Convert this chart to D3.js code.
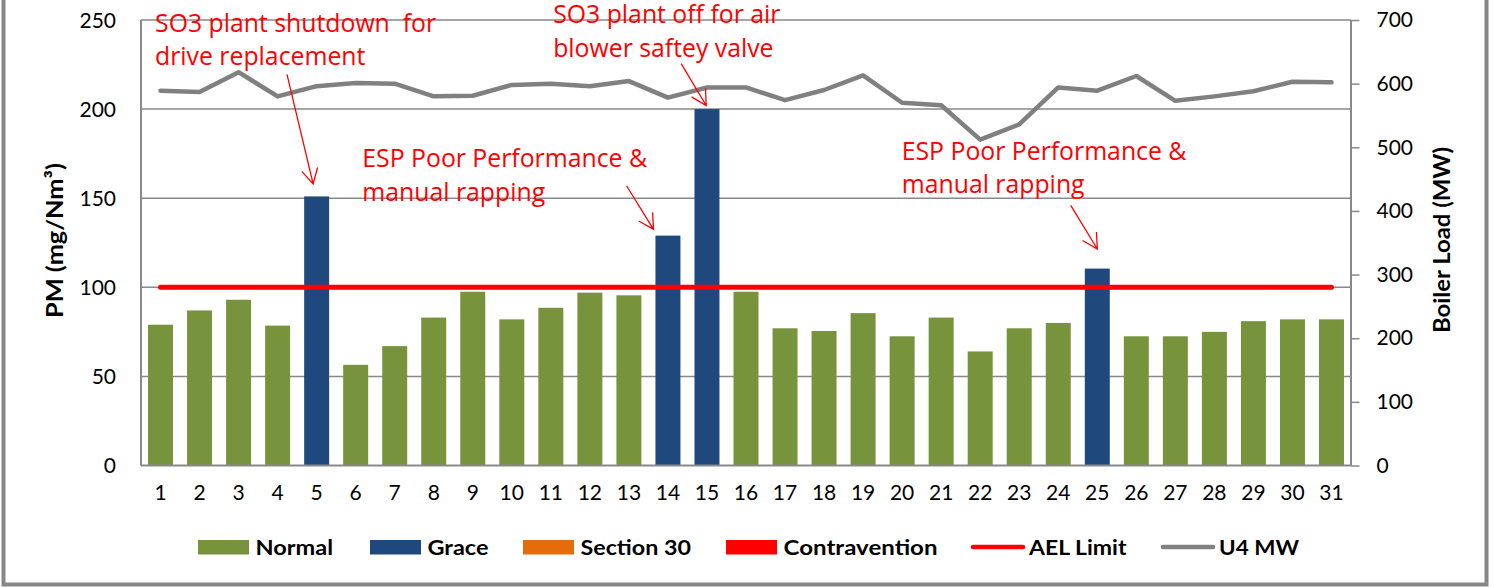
<!DOCTYPE html>
<meta charset='utf-8'>
<style>
body { margin: 0; background: #fff; }
svg { display: block; }
text { font-family: Lato, 'Open Sans', sans-serif; }
.tick-label { font-size: 21px; fill: #000; }
.note { font-family: 'Open Sans', sans-serif; font-size: 24.8px; fill: #ff0000; white-space: pre; }
.legend text { font-size: 21px; font-weight: bold; fill: #000; }
.axis-title { font-size: 23px; font-weight: bold; fill: #000; }
</style>
<div id='chart'></div>
<script src="https://cdnjs.cloudflare.com/ajax/libs/d3/7.8.5/d3.min.js"></script>
<script>
// daily values
const days = d3.range(1, 32);
const pm = [79, 87, 93, 78.5, 151, 56.5, 67, 83, 97.5, 82, 88.5, 97, 95.5, 129, 200, 97.5,
            77, 75.5, 85.5, 72.5, 83, 64, 77, 80, 110.5, 72.5, 72.5, 75, 81, 82, 82];
const status = ['Normal', 'Normal', 'Normal', 'Normal', 'Grace', 'Normal', 'Normal', 'Normal',
                'Normal', 'Normal', 'Normal', 'Normal', 'Normal', 'Grace', 'Grace', 'Normal',
                'Normal', 'Normal', 'Normal', 'Normal', 'Normal', 'Normal', 'Normal', 'Normal',
                'Grace', 'Normal', 'Normal', 'Normal', 'Normal', 'Normal', 'Normal'];
const loadMW = [589, 587, 618, 580, 596, 601, 600, 580, 581, 598, 600, 596, 604, 578, 594, 594,
                574, 590, 613, 570, 566, 512, 536, 594, 589, 612, 573, 580, 588, 603, 602];
const aelLimit = 100;
const pmTicks = [0, 50, 100, 150, 200, 250];
const mwTicks = [0, 100, 200, 300, 400, 500, 600, 700];

// notes: text anchor and arrow in data units (day, PM)
const notes = [
  { lines: ['SO3 plant shutdown  for', 'drive replacement'], day: 0.86, pm: 243.5, from: [4.24, 219.5], to: [4.91, 158] },
  { lines: ['SO3 plant off for air', 'blower saftey valve'], day: 11.06, pm: 248.3, from: [14.34, 225.5], to: [14.98, 202] },
  { lines: ['ESP Poor Performance &', 'manual rapping'], day: 6.17, pm: 167.5, from: [12.94, 157], to: [13.63, 132.5] },
  { lines: ['ESP Poor Performance &', 'manual rapping'], day: 19.99, pm: 171.5, from: [24.32, 146], to: [25.0, 121.5] }
];

const colors = { 'Normal': '#77933c', 'Grace': '#1f497d', 'Section 30': '#e46c0a', 'Contravention': '#ff0000' };
const legendItems = [
  { name: 'Normal', kind: 'box', x: 198, w: 77.5 },
  { name: 'Grace', kind: 'box', x: 370, w: 61 },
  { name: 'Section 30', kind: 'box', x: 523, w: 110.5 },
  { name: 'Contravention', kind: 'box', x: 726, w: 154 },
  { name: 'AEL Limit', kind: 'line', color: '#ff0000', x: 971, w: 97.5 },
  { name: 'U4 MW', kind: 'line', color: '#808080', x: 1161, w: 80 }
];

const width = 1494, height = 587;
const plotLeft = 141, plotRight = 1351, plotTop = 20, plotBottom = 465.5;

const svg = d3.select('#chart').append('svg')
  .attr('width', width)
  .attr('height', height);

const x = d3.scaleBand().domain(days).range([plotLeft, plotRight]).paddingInner(0.36).paddingOuter(0.18);
const xl = d3.scaleLinear().domain([0.5, 31.5]).range([plotLeft, plotRight]);
const y = d3.scaleLinear().domain([0, 250]).range([plotBottom, plotTop]);
const y2 = d3.scaleLinear().domain([0, 700]).range([plotBottom, plotTop]);

// outer frame
svg.append('rect')
  .attr('x', 3.5).attr('y', -10)
  .attr('width', 1483).attr('height', 594.5)
  .attr('fill', 'none').attr('stroke', '#878787').attr('stroke-width', 4);

// gridlines
svg.append('g').selectAll('line')
  .data(pmTicks.filter(d => d > 0))
  .join('line')
  .attr('x1', plotLeft).attr('x2', plotRight)
  .attr('y1', d => y(d)).attr('y2', d => y(d))
  .attr('stroke', '#898989').attr('stroke-width', 1.5);

// left axis labels
svg.append('g').selectAll('text')
  .data(pmTicks)
  .join('text')
  .attr('class', 'tick-label')
  .attr('x', 116).attr('y', d => y(d)).attr('dy', '0.36em')
  .attr('text-anchor', 'end')
  .text(d => d);

// right axis
const rAxis = svg.append('g').attr('transform', `translate(${plotRight},0)`)
  .call(d3.axisRight(y2).tickValues(mwTicks).tickSize(8.5).tickPadding(17));
rAxis.select('.domain').remove();
rAxis.selectAll('line').attr('stroke', '#898989').attr('stroke-width', 1.5);
rAxis.attr('font-family', null).attr('font-size', null);
rAxis.selectAll('text').attr('class', 'tick-label').attr('fill', '#000');

// bars
svg.append('g').selectAll('rect')
  .data(days)
  .join('rect')
  .attr('x', d => x(d))
  .attr('width', x.bandwidth())
  .attr('y', (d, i) => y(pm[i]))
  .attr('height', (d, i) => y(0) - y(pm[i]))
  .attr('fill', (d, i) => colors[status[i]]);

// axis lines
svg.append('line').attr('x1', plotLeft).attr('x2', plotLeft).attr('y1', plotTop).attr('y2', plotBottom)
  .attr('stroke', '#898989').attr('stroke-width', 2);
svg.append('line').attr('x1', plotRight).attr('x2', plotRight).attr('y1', plotTop).attr('y2', plotBottom)
  .attr('stroke', '#898989').attr('stroke-width', 2);
svg.append('line').attr('x1', plotLeft).attr('x2', plotRight).attr('y1', plotBottom).attr('y2', plotBottom)
  .attr('stroke', '#898989').attr('stroke-width', 2);

// x labels
svg.append('g').selectAll('text')
  .data(days)
  .join('text')
  .attr('class', 'tick-label')
  .attr('x', d => x(d) + x.bandwidth() / 2)
  .attr('y', 500)
  .attr('text-anchor', 'middle')
  .text(d => d);

// AEL limit
svg.append('line')
  .attr('x1', x(1) + x.bandwidth() / 2).attr('x2', x(31) + x.bandwidth() / 2)
  .attr('y1', y(aelLimit)).attr('y2', y(aelLimit))
  .attr('stroke', '#ff0000').attr('stroke-width', 5).attr('stroke-linecap', 'round');

// U4 MW
const mwLine = d3.line()
  .x((d, i) => x(days[i]) + x.bandwidth() / 2)
  .y(d => y2(d));
svg.append('path')
  .datum(loadMW)
  .attr('d', mwLine)
  .attr('fill', 'none').attr('stroke', '#808080').attr('stroke-width', 4.5)
  .attr('stroke-linejoin', 'round').attr('stroke-linecap', 'round');

// notes
const gNotes = svg.append('g');
notes.forEach(n => {
  const t = gNotes.append('text').attr('class', 'note')
    .attr('x', xl(n.day)).attr('y', y(n.pm));
  n.lines.forEach((s, i) => {
    t.append('tspan').attr('x', xl(n.day)).attr('dy', i ? 33.5 : 0).text(s);
  });
  const x0 = xl(n.from[0]), y0 = y(n.from[1]);
  const x1 = xl(n.to[0]), y1 = y(n.to[1]);
  const a = Math.atan2(y0 - y1, x0 - x1);
  const arm = 17, spread = 0.5;
  const p = d3.path();
  p.moveTo(x0, y0); p.lineTo(x1, y1);
  p.moveTo(x1 + arm * Math.cos(a - spread), y1 + arm * Math.sin(a - spread));
  p.lineTo(x1, y1);
  p.lineTo(x1 + arm * Math.cos(a + spread), y1 + arm * Math.sin(a + spread));
  gNotes.append('path').attr('d', p.toString())
    .attr('fill', 'none').attr('stroke', '#ff0000').attr('stroke-width', 1.3);
});

// axis titles
svg.append('text').attr('class', 'axis-title')
  .attr('transform', `translate(63,240.5) rotate(-90)`)
  .attr('text-anchor', 'middle')
  .attr('textLength', 155).attr('lengthAdjust', 'spacingAndGlyphs')
  .text('PM (mg/Nm³)');
svg.append('text').attr('class', 'axis-title')
  .attr('transform', `translate(1450,240) rotate(-90)`)
  .attr('text-anchor', 'middle')
  .attr('textLength', 186).attr('lengthAdjust', 'spacingAndGlyphs')
  .text('Boiler Load (MW)');

// legend
const legend = svg.append('g').attr('class', 'legend');
legendItems.forEach(d => {
  if (d.kind === 'box') {
    legend.append('rect').attr('x', d.x).attr('y', 540).attr('width', 51).attr('height', 14.5)
      .attr('fill', colors[d.name]);
  } else {
    legend.append('line').attr('x1', d.x + 2).attr('x2', d.x + 52).attr('y1', 547).attr('y2', 547)
      .attr('stroke', d.color).attr('stroke-width', 4.5).attr('stroke-linecap', 'round');
  }
  legend.append('text').attr('x', d.x + (d.kind === 'box' ? 57.5 : 58)).attr('y', 554.5)
    .attr('textLength', d.w).attr('lengthAdjust', 'spacingAndGlyphs')
    .text(d.name);
});
</script>
